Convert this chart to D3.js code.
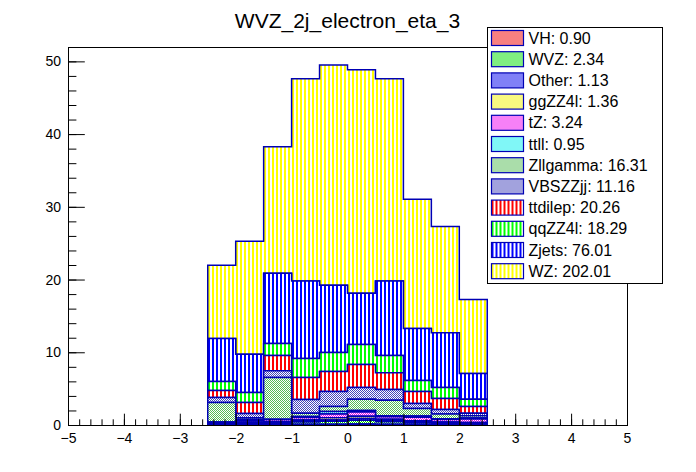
<!DOCTYPE html>
<html>
<head>
<meta charset="utf-8">
<script src="https://cdn.jsdelivr.net/npm/d3@7"></script>
<style>
  body { margin: 0; background: #fff; }
  svg { display: block; }
  text { font-family: "Liberation Sans", Arial, Helvetica, sans-serif; }
</style>
</head>
<body>
<svg id="chart" width="696" height="472"></svg>
<script>
// bin low edges of the eta histogram (width 0.5)
var binLow = [-2.5, -2, -1.5, -1, -0.5, 0, 0.5, 1, 1.5, 2];
var binWidth = 0.5;

// stack order, bottom first (same as legend, top to bottom)
var samples = ['VH', 'WVZ', 'Other', 'ggZZ4l', 'tZ', 'ttll', 'Zllgamma',
               'VBSZZjj', 'ttdilep', 'qqZZ4l', 'Zjets', 'WZ'];
var yieldLabels = ['0.90', '2.34', '1.13', '1.36', '3.24', '0.95', '16.31',
                   '11.16', '20.26', '18.29', '76.01', '202.01'];

// per-bin contents
var VH       = [0.03, 0.05, 0.06, 0.10, 0.12, 0.15, 0.10, 0.10, 0.07, 0.05];
var WVZ      = [0.10, 0.15, 0.18, 0.30, 0.40, 0.50, 0.35, 0.25, 0.15, 0.15];
var Other    = [0.05, 0.10, 0.10, 0.15, 0.18, 0.25, 0.15, 0.10, 0.08, 0.05];
var ggZZ4l   = [0.08, 0.10, 0.12, 0.15, 0.30, 0.30, 0.20, 0.13, 0.10, 0.08];
var tZ       = [0.10, 0.25, 0.25, 0.33, 0.50, 0.60, 0.35, 0.50, 0.35, 0.50];
var ttll     = [0.05, 0.09, 0.07, 0.15, 0.37, 0.20, 0.12, 0.15, 0.12, 0.12];
var Zllgamma = [2.69, 0.26, 5.75, 0.42, 0.69, 1.54, 2.13, 1.04, 0.63, 0.31];
var VBSZZjj  = [0.69, 0.59, 0.93, 1.90, 2.04, 1.61, 1.47, 0.67, 0.63, 0.36];
var ttdilep  = [0.95, 1.51, 2.10, 3.03, 2.75, 3.17, 2.33, 1.66, 1.50, 0.93];
var qqZZ4l   = [1.24, 1.36, 1.64, 2.61, 2.62, 2.75, 2.36, 1.51, 1.52, 1.00];
var Zjets    = [5.92, 5.28, 9.67, 10.66, 9.23, 7.03, 10.24, 7.17, 7.55, 3.53];
var WZ       = [10.05, 15.52, 17.38, 27.80, 30.30, 30.75, 27.80, 17.77, 14.60, 10.19];

var series = [VH, WVZ, Other, ggZZ4l, tZ, ttll, Zllgamma, VBSZZjj, ttdilep, qqZZ4l, Zjets, WZ];

var xTicks = d3.range(-5, 6, 1);
var yTicks = [0, 10, 20, 30, 40, 50];

// look of each sample: colour and ROOT-like fill pattern
var styles = {
    VH:       { color: '#ee0000', pattern: 'check' },
    WVZ:      { color: '#00dd00', pattern: 'check' },
    Other:    { color: '#0000ee', pattern: 'check' },
    ggZZ4l:   { color: '#f0f000', pattern: 'check' },
    tZ:       { color: '#ee00ee', pattern: 'check' },
    ttll:     { color: '#00eeee', pattern: 'check' },
    Zllgamma: { color: '#55bb55', pattern: 'check' },
    VBSZZjj:  { color: '#4444bb', pattern: 'check' },
    ttdilep:  { color: '#ff0000', pattern: 'vline' },
    qqZZ4l:   { color: '#00ff00', pattern: 'vline' },
    Zjets:    { color: '#0000ff', pattern: 'vline' },
    WZ:       { color: '#ffff00', pattern: 'vline' }
};
var lineColor = '#0000b4';

var margin = { left: 68, right: 69, top: 47, bottom: 47 },
    width = 696, height = 472;

var svg = d3.select('#chart');

var x = d3.scaleLinear().domain([-5, 5]).range([margin.left, width - margin.right]);

var rows = binLow.map(function(lo, i) {
    var r = { lo: lo };
    samples.forEach(function(s, k) { r[s] = series[k][i]; });
    return r;
});
var stacked = d3.stack().keys(samples)(rows);
var ymax = d3.max(stacked[stacked.length - 1], function(d) { return d[1]; }) * 1.05;

var y = d3.scaleLinear().domain([0, ymax]).range([height - margin.bottom, margin.top]);

// patterns
var defs = svg.append('defs');
samples.forEach(function(s) {
    var st = styles[s];
    var p = defs.append('pattern')
        .attr('id', 'pat-' + s)
        .attr('patternUnits', 'userSpaceOnUse');
    if(st.pattern === 'check') {
        p.attr('width', 2).attr('height', 2);
        p.append('rect').attr('width', 2).attr('height', 2).attr('fill', '#fff');
        p.append('rect').attr('width', 1).attr('height', 1).attr('fill', st.color);
        p.append('rect').attr('x', 1).attr('y', 1).attr('width', 1).attr('height', 1)
            .attr('fill', st.color);
    }
    else {
        p.attr('width', 4).attr('height', 4);
        p.append('rect').attr('width', 4).attr('height', 4).attr('fill', '#fff');
        p.append('rect').attr('width', 1.5).attr('height', 4).attr('fill', st.color);
    }
    p.selectAll('rect').attr('shape-rendering', 'crispEdges');
});

// histogram bands, drawn top of stack first like THStack
var area = d3.area()
    .curve(d3.curveStepAfter)
    .x(function(d) { return x(d.x); })
    .y0(function(d) { return y(d.y0); })
    .y1(function(d) { return y(d.y1); });

var gHist = svg.append('g').attr('class', 'stack');

stacked.slice().reverse().forEach(function(layer) {
    var pts = layer.map(function(d) { return { x: d.data.lo, y0: d[0], y1: d[1] }; });
    var last = pts[pts.length - 1];
    pts.push({ x: last.x + binWidth, y0: last.y0, y1: last.y1 });

    gHist.append('path')
        .attr('d', area(pts))
        .attr('fill', 'url(#pat-' + layer.key + ')')
        .attr('stroke', lineColor)
        .attr('stroke-width', 1.5)
        .attr('stroke-linejoin', 'miter');
});

// axes
var fontSize = 14;

var xMinor = svg.append('g')
    .attr('transform', 'translate(0,' + y(0) + ')')
    .call(d3.axisBottom(x).tickValues(d3.range(-5, 5.001, 0.2)).tickSize(-5.7).tickFormat(''));
var xMajor = svg.append('g')
    .attr('transform', 'translate(0,' + y(0) + ')')
    .call(d3.axisBottom(x).tickValues(xTicks).tickSize(-11.3).tickPadding(5));

var yMinor = svg.append('g')
    .attr('transform', 'translate(' + margin.left + ',0)')
    .call(d3.axisLeft(y).tickValues(d3.range(0, ymax, 2)).tickSize(-8.4).tickFormat(''));
var yMajor = svg.append('g')
    .attr('transform', 'translate(' + margin.left + ',0)')
    .call(d3.axisLeft(y).tickValues(yTicks).tickSize(-16.8).tickPadding(7));

[xMinor, xMajor, yMinor, yMajor].forEach(function(g) {
    g.select('.domain').remove();
    g.selectAll('.tick line').attr('stroke', '#000').attr('stroke-width', 1);
    g.selectAll('.tick text')
        .attr('fill', '#000')
        .style('font-size', fontSize + 'px')
        .style('font-family', '"Liberation Sans", Arial, sans-serif');
});
xMajor.selectAll('.tick text').attr('dy', '0.9em');

// frame
svg.append('rect')
    .attr('x', margin.left + 0.5).attr('y', margin.top + 0.5)
    .attr('width', x(5) - x(-5)).attr('height', y(0) - y(ymax))
    .attr('fill', 'none').attr('stroke', '#000').attr('stroke-width', 1);

// title
svg.append('text')
    .attr('x', 347.5).attr('y', 28)
    .attr('text-anchor', 'middle')
    .style('font-size', '21px')
    .text('WVZ_2j_electron_eta_3');

// legend
var leg = svg.append('g').attr('transform', 'translate(487.5,27.5)');
leg.append('rect')
    .attr('width', 175).attr('height', 256)
    .attr('fill', '#fff').attr('stroke', '#000').attr('stroke-width', 1);

var rowH = 21.2;
samples.forEach(function(s, i) {
    var cy = 10.5 + i * rowH;
    leg.append('rect')
        .attr('x', 4).attr('y', cy - 7.5)
        .attr('width', 32).attr('height', 15)
        .attr('fill', 'url(#pat-' + s + ')')
        .attr('stroke', lineColor).attr('stroke-width', 1.2);
    leg.append('text')
        .attr('x', 41).attr('y', cy + 5.5)
        .style('font-size', '16px')
        .text(s + ': ' + yieldLabels[i]);
});
</script>
</body>
</html>
